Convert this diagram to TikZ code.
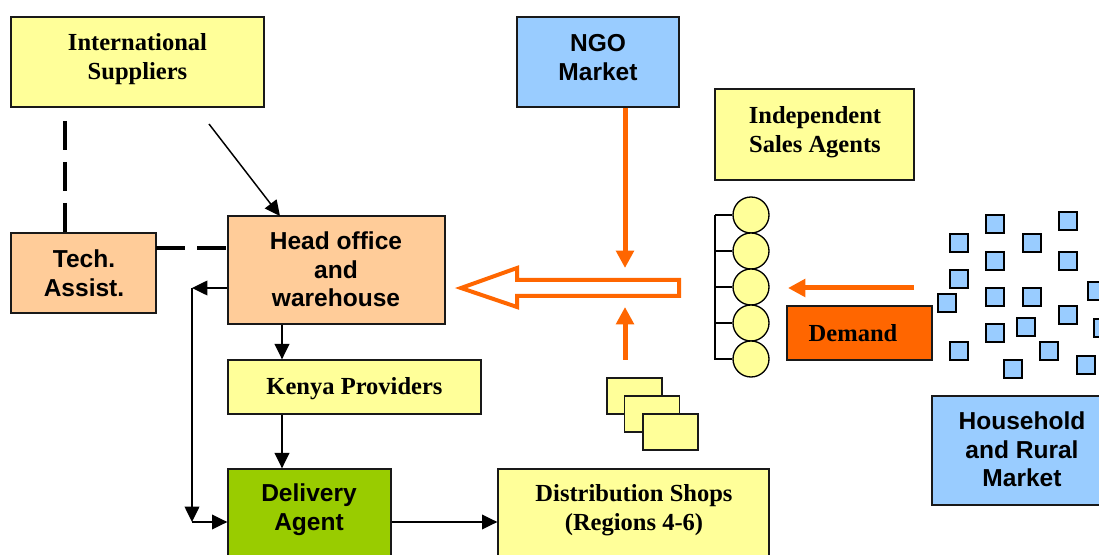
\documentclass[tikz,border=0pt]{standalone}
\usepackage{fontspec}
\setmainfont{Liberation Serif}
\newfontfamily\arialb{Liberation Sans}
\usetikzlibrary{arrows.meta}
\definecolor{cyel}{HTML}{FFFF99}
\definecolor{cblue}{HTML}{99CCFF}
\definecolor{cpeach}{HTML}{FFCC99}
\definecolor{cgreen}{HTML}{99CC00}
\definecolor{corange}{HTML}{FF6600}
\begin{document}
\begin{tikzpicture}[x=0.75pt,y=-0.75pt,
  box/.style={draw=black!90, line width=1pt, inner sep=0pt},
  sertxt/.style={font=\fontsize{18.4}{21.8}\selectfont\bfseries, align=center, inner sep=0pt},
  santxt/.style={font=\arialb\fontsize{18.4}{21.5}\selectfont\bfseries, align=center, inner sep=0pt},
  conn/.style={line width=1.1pt, -{Triangle[length=11.5pt,width=11pt]}},
  plainline/.style={line width=1.1pt},
  dashline/.style={line width=2.4pt, dash pattern=on 21.75pt off 9pt},
  oarrow/.style={draw=corange, line width=3.75pt, -{Triangle[length=13pt,width=13pt]}},
  sq/.style={draw=black, line width=1.3pt, fill=cblue, minimum size=13.5pt, inner sep=0pt},
  shopsheet/.style={box, fill=cyel, minimum width=41.25pt, minimum height=27pt},
  agent/.style={circle, draw=black, line width=1pt, fill=cyel, minimum size=27pt, inner sep=0pt}
]
\useasboundingbox (0,0) rectangle (1099,555);
\clip (0,0) rectangle (1099,555);

% boxes
\node[box, fill=cyel, minimum width=189.75pt, minimum height=67.5pt] (intl) at (137.5,62) {};
\node[sertxt] (intl-t) at (137.5,59.5) {International\\Suppliers};

\node[box, fill=cblue, minimum width=121.5pt, minimum height=67.5pt] (ngo) at (598,62) {};
\node[santxt] (ngo-t) at (598,57.5) {NGO\\Market};

\node[box, fill=cyel, minimum width=149.25pt, minimum height=68.25pt] (isa) at (814.5,134.5) {};
\node[sertxt] (isa-t) at (815,132.5) {Independent\\Sales Agents};

\node[box, fill=cpeach, minimum width=108.75pt, minimum height=60pt] (tech) at (83.5,273) {};
\node[santxt] (tech-t) at (84,273.5) {Tech.\\Assist.};

\node[box, fill=cpeach, minimum width=162.75pt, minimum height=81pt] (head) at (336.5,270) {};
\node[santxt] (head-t) at (336,269.5) {Head office\\and\\warehouse};

\node[box, fill=cyel, minimum width=189.75pt, minimum height=40.5pt] (kenya) at (354.5,387) {};
\node[sertxt] (kenya-t) at (354.5,389) {Kenya Providers};

\node[box, fill=cgreen, minimum width=122.25pt, minimum height=79.5pt] (deliv) at (309.5,522) {};
\node[santxt] (deliv-t) at (309,510) {Delivery\\Agent};

\node[box, fill=cyel, minimum width=203.25pt, minimum height=79.5pt] (dist) at (633.5,522) {};
\node[sertxt] (dist-t) at (634,510.5) {Distribution Shops\\(Regions 4-6)};

\node[box, fill=corange, minimum width=108.75pt, minimum height=40.5pt] (demand) at (859.5,333) {};
\node[sertxt] (demand-t) at (853,333) {Demand};

\node[box, fill=cblue, minimum width=141pt, minimum height=81.75pt] (house) at (1026,450.5) {};
\node[santxt] (house-t) at (1022,449.5) {Household\\and Rural\\Market};

% black connectors
\coordinate (i1) at (209,124);
\coordinate (h1) at (280,216);
\draw[conn] (i1) -- (h1);

\coordinate (d1) at (65,121);
\draw[dashline] (d1) -- (d1 |- tech.north);
\coordinate (t1) at (156,248);
\draw[dashline] (t1) -- (t1 -| head.west);

\coordinate (cx) at (282,0);
\draw[conn] (cx |- head.south) -- (cx |- kenya.north);
\draw[conn] (cx |- kenya.south) -- (cx |- deliv.north);
\draw[conn] (deliv.east) -- (dist.west);

\coordinate (lp) at (192,288);
\coordinate (lb) at (192,522);
\draw[conn] (lp -| head.west) -- (lp);
\draw[conn] (lp) -- (lb);
\draw[conn] (lb) -- (deliv.west);

% hollow arrow
\draw[draw=corange, line width=3pt, fill=white, miter limit=10]
  (679,280) -- (517,280) -- (517,268) -- (461,288) -- (517,307) -- (517,296) -- (679,296) -- cycle;

% orange arrows
\coordinate (ox) at (625,0);
\coordinate (o1) at (625,268);
\draw[oarrow] (ox |- ngo.south) -- (o1);
\coordinate (o2) at (625,360);
\coordinate (o3) at (625,307);
\draw[oarrow] (o2) -- (o3);
\coordinate (o4) at (914,288);
\coordinate (o5) at (788,288);
\draw[oarrow] (o4) -- (o5);

% agents
\foreach \i in {0,...,4} {
  \node[agent] (c\i) at (751,215+36*\i) {};
}
\coordinate (bt) at (715,215);
\coordinate (bb) at (715,360);
\draw[line width=1pt] (bt) -- (bb);
\foreach \i in {0,...,4} {
  \draw[line width=1pt] (bt |- c\i.west) -- (c\i.west);
}

% shop sheets
\node[shopsheet] (s1) at (634.5,396) {};
\node[shopsheet] (s2) at (652,414) {};
\node[shopsheet] (s3) at (670.5,432) {};

% households
\foreach \n/\x/\y in {a/995/224, b/1068/221, c/959/243, d/1032/243, e/995/261, f/1068/261,
  g/959/279, h/1097/291, i/947/303, j/995/297, k/1032/297, l/1068/315, m/1026/327,
  n/995/333, o/1103/328, p/959/351, q/1049/351, r/1013/369, s/1086/365} {
  \node[sq] (q\n) at (\x,\y) {};
}
\end{tikzpicture}
\end{document}
